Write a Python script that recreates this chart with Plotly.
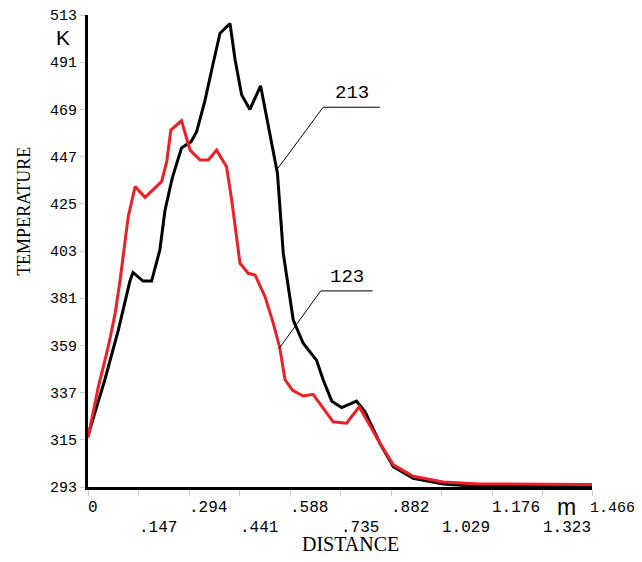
import plotly.graph_objects as go

# ---- data ----
dist_213 = [0.0, 0.02, 0.049, 0.088, 0.11, 0.122, 0.131, 0.16, 0.185, 0.209, 0.224, 0.245,
            0.272, 0.30, 0.316, 0.34, 0.362, 0.384, 0.413, 0.428, 0.447, 0.471, 0.502, 0.52,
            0.534, 0.551, 0.568, 0.597, 0.626, 0.665, 0.684, 0.709, 0.738, 0.781, 0.806,
            0.849, 0.888, 0.946, 1.033, 1.13, 1.466]
temp_213 = [317, 327.5, 343, 366, 381, 389, 393, 389, 389, 403.5, 422, 437,
            451, 454, 458.6, 473, 489, 504.5, 509, 492, 475.7, 469, 480, 465.6,
            453.3, 439.3, 402, 370.8, 360, 352, 343, 333, 330, 333, 328,
            313.4, 302.5, 297, 294.4, 293.3, 293.2]

dist_123 = [0.0, 0.03, 0.059, 0.079, 0.093, 0.117, 0.137, 0.166, 0.214, 0.229, 0.241,
            0.272, 0.297, 0.326, 0.35, 0.374, 0.403, 0.418, 0.442, 0.466, 0.486, 0.515,
            0.539, 0.558, 0.573, 0.595, 0.626, 0.655, 0.713, 0.752, 0.789, 0.849, 0.888,
            0.946, 1.033, 1.14, 1.466]
temp_123 = [316, 339.7, 358.4, 374, 389, 419, 433, 428, 435.3, 444.6, 459.4,
            463.7, 450, 445.4, 445.4, 450, 442.3, 426.8, 397.3, 392.6, 391.8, 381.7,
            369.3, 357.8, 343, 338, 335.4, 336.2, 323.4, 322.7, 330.4, 313.5, 303.3,
            298, 295.3, 294.4, 294.2]

x_tick_vals = [0, 0.147, 0.294, 0.441, 0.588, 0.735, 0.882, 1.029, 1.176, 1.323, 1.466]
x_tick_labels = ["0", ".147", ".294", ".441", ".588", ".735", ".882", "1.029", "1.176", "1.323", "1.466"]
y_tick_vals = [293, 315, 337, 359, 381, 403, 425, 447, 469, 491, 513]
y_tick_labels = ["293", "315", "337", "359", "381", "403", "425", "447", "469", "491", "513"]

# leader lines for curve labels: (curve point, elbow, end)
label_213 = {"text": "213", "pts": [(0.549, 440.8), (0.684, 470.0), (0.849, 470.0)]}
label_123 = {"text": "123", "pts": [(0.556, 357.6), (0.677, 384.4), (0.828, 384.4)]}

RED = "#ee1f26"
MONO = "Liberation Mono, Courier New, monospace"
SERIF = "Liberation Serif, Times New Roman, serif"
SANS = "Liberation Sans, Arial, sans-serif"

fig = go.Figure()
fig.add_trace(go.Scatter(x=dist_213, y=temp_213, mode="lines",
                         line=dict(color="black", width=3), name="213"))
fig.add_trace(go.Scatter(x=dist_123, y=temp_123, mode="lines",
                         line=dict(color=RED, width=3), name="123"))

shapes = []
annotations = []
for lab in (label_213, label_123):
    p = lab["pts"]
    path = "M {} {} L {} {} L {} {}".format(p[0][0], p[0][1], p[1][0], p[1][1], p[2][0], p[2][1])
    shapes.append(dict(type="path", xref="x", yref="y", path=path,
                       line=dict(color="black", width=1)))
    annotations.append(dict(x=(p[1][0] + p[2][0]) / 2, y=p[1][1], xref="x", yref="y",
                            text=lab["text"], showarrow=False, xanchor="center",
                            yanchor="bottom", yshift=1,
                            font=dict(family=MONO, size=19, color="black")))

# x tick labels: left-aligned at their ticks, alternating on two rows
n_ticks = len(x_tick_vals)
for i, (v, t) in enumerate(zip(x_tick_vals, x_tick_labels)):
    last = i == n_ticks - 1
    annotations.append(dict(x=v, y=-0.0445 if i % 2 == 0 else -0.0869, xref="x", yref="paper",
                            text=t, showarrow=False, xanchor="left", yanchor="middle",
                            xshift=-4 if last else -2,
                            font=dict(family=MONO, size=15 if last else 16, color="black")))


def paper_text(text, x, y, font, angle=0):
    return dict(text=text, x=x, y=y, xref="paper", yref="paper", showarrow=False,
                xanchor="center", yanchor="middle", textangle=angle, font=font)


annotations += [
    paper_text("K", -0.05, 0.953, dict(family=SANS, size=21, color="black")),
    paper_text("m", 0.950, -0.042, dict(family=SANS, size=23, color="black")),
    paper_text("DISTANCE", 0.52, -0.1208, dict(family=SERIF, size=20, color="black")),
    paper_text("TEMPERATURE", -0.127, 0.585, dict(family=SERIF, size=18, color="black"), -90),
]

# page body has an 8px margin; the plot area sits at x 88..592, y 15..487 of the window
fig.update_layout(
    width=634, height=546,
    margin=dict(l=80, r=50, t=7, b=67, autoexpand=False),
    paper_bgcolor="white", plot_bgcolor="white",
    showlegend=False,
    shapes=shapes, annotations=annotations,
    xaxis=dict(range=[0, 1.466], tickvals=x_tick_vals, showticklabels=False, automargin=False,
               showgrid=False, zeroline=False, showline=True, linecolor="black", linewidth=3,
               ticks="outside", ticklen=6, tickcolor="#c8c8c8", tickwidth=1),
    yaxis=dict(range=[293, 513], tickvals=y_tick_vals, ticktext=y_tick_labels, automargin=False,
               showgrid=False, zeroline=False, showline=True, linecolor="black", linewidth=3,
               ticks="outside", ticklen=5, tickcolor="#c8c8c8", tickwidth=1,
               ticklabeloverflow="allow",
               tickfont=dict(family=MONO, size=15, color="black")),
)

fig.write_html("out.html")
